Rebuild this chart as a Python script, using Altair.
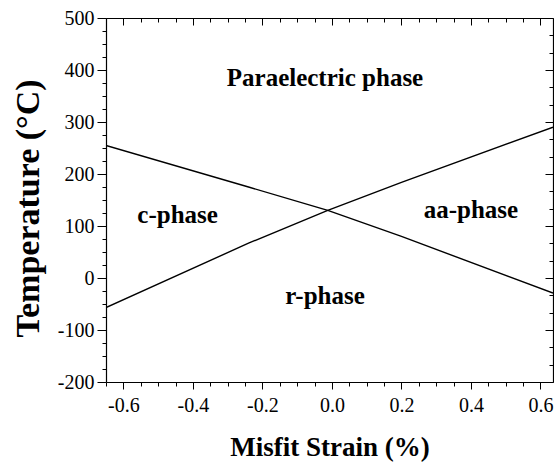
import altair as alt
import pandas as pd

# Phase-boundary lines
strain = [-0.65, -0.24, -0.012, 0.2, 0.636]
temp_boundary_down = [255, 175, 130, 80, -29]   # c | paraelectric, then r | aa
temp_boundary_up = [-57, 67, 130, 184, 290]     # c | r, then paraelectric | aa

# Phase labels
phase_names = ["Paraelectric phase", "c-phase", "aa-phase", "r-phase"]
phase_strain = [-0.02, -0.444, 0.40, -0.02]
phase_temp = [370, 106, 115, -50]

x_domain = [-0.65, 0.636]
y_domain = [-200, 500]

x_ticks = [round(i * 0.05, 2) + 0.0 for i in range(-13, 13)]
y_ticks_left = [v for v in range(-200, 501, 25)]
y_ticks_right = [round(-200 + i * 100 / 3, 4) for i in range(22)]
x_ticks_top = [round(i * 0.05, 2) + 0.0 for i in range(-13, 13)]

W, H = 447, 364
FONT = "Liberation Serif, Times New Roman, Times, serif"

lines_df = pd.DataFrame({
    "strain": strain * 2,
    "temp": temp_boundary_down + temp_boundary_up,
    "boundary": ["down"] * len(strain) + ["up"] * len(strain),
})
labels_df = pd.DataFrame({"name": phase_names, "strain": phase_strain, "temp": phase_temp})

xscale = alt.Scale(domain=x_domain, nice=False, zero=False)
yscale = alt.Scale(domain=y_domain, nice=False, zero=False)

major_x = "abs(datum.value/0.2 - round(datum.value/0.2)) < 0.001"
major_y = "abs(datum.value/100 - round(datum.value/100)) < 0.001"

common_axis = dict(
    labelFont=FONT, labelFontSize=20, labelColor="black",
    tickColor="black", domainColor="black", tickWidth=1, domainWidth=1.2,
    grid=False, labelOverlap=False, labelFlush=False, labelBound=False,
    titleFont=FONT, titleFontWeight="bold", titleColor="black",
)

x_axis = alt.Axis(
    values=x_ticks, orient="bottom",
    tickSize={"condition": {"test": major_x, "value": 7}, "value": 4},
    labelExpr=f"{major_x} ? replace(format(datum.value, '.1f'), '\u2212', '-') : ''",
    labelPadding=6,
    title="Misfit Strain (%)", titleFontSize=27, titleY=73, titleBaseline="alphabetic",
    **common_axis,
)
y_axis = alt.Axis(
    values=y_ticks_left, orient="left",
    tickSize={"condition": {"test": major_y, "value": 9}, "value": 4},
    labelExpr=f"{major_y} ? replace(format(datum.value, 'd'), '\u2212', '-') : ''",
    labelPadding=3,
    title="Temperature (°C)", titleFontSize=34, titleAngle=270, titleX=-68, titleY=190,
    titleAlign="center", titleBaseline="alphabetic",
    **common_axis,
)
x_axis_top = alt.Axis(
    values=x_ticks_top, orient="bottom", offset=-H, labels=False, title=None,
    tickSize={"condition": {"test": major_x, "value": 7}, "value": 4},
    **common_axis,
)
y_axis_right = alt.Axis(
    values=y_ticks_right, orient="left", offset=-W, labels=False, title=None,
    tickSize={"condition": {"test": major_y, "value": 8}, "value": 4},
    **common_axis,
)

lines = alt.Chart(lines_df).mark_line(color="black", strokeWidth=1.4, clip=True).encode(
    x=alt.X("strain:Q", scale=xscale, axis=x_axis),
    y=alt.Y("temp:Q", scale=yscale, axis=y_axis),
    detail="boundary:N",
)

texts = alt.Chart(labels_df).mark_text(
    font=FONT, fontSize=25, fontWeight="bold", color="black",
    align="center", baseline="alphabetic",
).encode(
    x=alt.X("strain:Q", scale=xscale, axis=x_axis_top),
    y=alt.Y("temp:Q", scale=yscale, axis=y_axis_right),
    text="name:N",
)

chart = alt.layer(lines, texts).resolve_axis(x="independent", y="independent").properties(
    width=W, height=H,
    autosize=alt.AutoSizeParams(type="none"),
    padding={"left": 106, "top": 18, "right": 1, "bottom": 82},
    background="white",
).configure_view(stroke="black", strokeWidth=1.2).configure_axis(
    labelFont=FONT, titleFont=FONT
).configure(font=FONT)

chart.save("out.html", embed_options={"renderer": "svg", "actions": False})
